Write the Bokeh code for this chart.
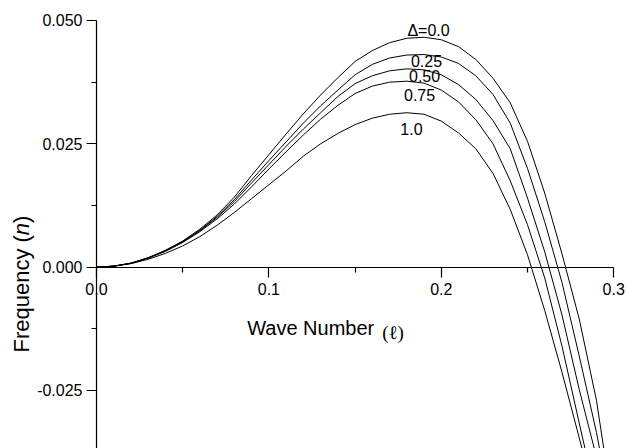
import math
from bokeh.plotting import figure
from bokeh.models import Range1d, FixedTicker, Label
from bokeh.embed import file_html
from bokeh.resources import INLINE

# ---- data ----
wave_number = [0.00, 0.01, 0.02, 0.03, 0.04, 0.05, 0.06, 0.07, 0.08, 0.09,
               0.10, 0.11, 0.12, 0.13, 0.14, 0.15, 0.16, 0.17, 0.18, 0.19,
               0.20, 0.21, 0.22, 0.23, 0.24, 0.25, 0.26, 0.27, 0.28, 0.29, 0.30]

freq_delta_000 = [0.0000, 0.0002, 0.0008, 0.0019, 0.0034, 0.0053, 0.0077, 0.0106, 0.0142, 0.0186,
                  0.0228, 0.0270, 0.0311, 0.0349, 0.0384, 0.0417, 0.0439, 0.0455, 0.0464, 0.0466,
                  0.0461, 0.0447, 0.0421, 0.0383, 0.0333, 0.0255, 0.0150, 0.0027, -0.0105, -0.0270, -0.0500]
freq_delta_025 = [0.0000, 0.0002, 0.0008, 0.0019, 0.0034, 0.0052, 0.0075, 0.0103, 0.0137, 0.0177,
                  0.0216, 0.0254, 0.0292, 0.0327, 0.0359, 0.0390, 0.0411, 0.0424, 0.0430, 0.0431,
                  0.0426, 0.0413, 0.0388, 0.0350, 0.0292, 0.0200, 0.0092, -0.0031, -0.0180, -0.0335, -0.0520]
freq_delta_050 = [0.0000, 0.0002, 0.0008, 0.0019, 0.0033, 0.0051, 0.0074, 0.0101, 0.0133, 0.0171,
                  0.0208, 0.0245, 0.0280, 0.0313, 0.0346, 0.0372, 0.0388, 0.0398, 0.0402, 0.0400,
                  0.0390, 0.0370, 0.0340, 0.0297, 0.0240, 0.0140, 0.0031, -0.0097, -0.0248, -0.0385, -0.0540]
freq_delta_075 = [0.0000, 0.0002, 0.0008, 0.0018, 0.0032, 0.0050, 0.0072, 0.0098, 0.0128, 0.0163,
                  0.0199, 0.0234, 0.0268, 0.0300, 0.0328, 0.0352, 0.0367, 0.0375, 0.0377, 0.0373,
                  0.0359, 0.0335, 0.0299, 0.0250, 0.0175, 0.0086, -0.0022, -0.0160, -0.0316, -0.0470, -0.0630]
freq_delta_100 = [0.0000, 0.0002, 0.0007, 0.0016, 0.0028, 0.0043, 0.0062, 0.0085, 0.0111, 0.0139,
                  0.0167, 0.0195, 0.0225, 0.0250, 0.0271, 0.0289, 0.0302, 0.0310, 0.0313, 0.0310,
                  0.0296, 0.0272, 0.0240, 0.0190, 0.0117, 0.0025, -0.0088, -0.0213, -0.0346, -0.0480, -0.0620]

series = [freq_delta_000, freq_delta_025, freq_delta_050, freq_delta_075, freq_delta_100]
curve_labels = ["\u0394=0.0", "0.25", "0.50", "0.75", "1.0"]
curve_label_x = [0.1926, 0.1914, 0.1903, 0.1874, 0.1827]
curve_label_y = [0.0480, 0.0417, 0.0387, 0.0348, 0.0281]

x_ticks = [0.0, 0.1, 0.2, 0.3]
x_tick_labels = ["0.0", "0.1", "0.2", "0.3"]
x_minor = [0.05, 0.15, 0.25]
y_ticks = [-0.025, 0.0, 0.025, 0.05]
y_tick_labels = ["-0.025", "0.000", "0.025", "0.050"]
y_minor = [-0.0375, -0.0125, 0.0125, 0.0375]

FONT = "Liberation Sans"

p = figure(width=626, height=448, output_backend="svg", toolbar_location=None,
           x_range=Range1d(-0.05568, 0.30742), y_range=Range1d(-0.03676, 0.054054),
           min_border=0, min_border_left=0, min_border_right=0,
           min_border_top=0, min_border_bottom=0)
p.outline_line_color = None
p.xgrid.visible = False
p.ygrid.visible = False
p.background_fill_color = "white"
p.border_fill_color = "white"

for ys in series:
    p.line(wave_number, ys, line_color="black", line_width=1)

for t, lx, ly in zip(curve_labels, curve_label_x, curve_label_y):
    p.add_layout(Label(x=lx, y=ly, text=t, text_align="center", text_baseline="middle",
                       text_font=FONT, text_font_size="16px", text_color="black"))

# axes crossing at the origin
xa = p.xaxis[0]
xa.fixed_location = 0
xa.bounds = (0.0, 0.3)
xa.ticker = FixedTicker(ticks=x_ticks, minor_ticks=x_minor)
xa.major_label_overrides = dict(zip(x_ticks, x_tick_labels))
ya = p.yaxis[0]
ya.fixed_location = 0
ya.bounds = (-0.05, 0.05)
ya.ticker = FixedTicker(ticks=y_ticks, minor_ticks=y_minor)
ya.major_label_overrides = dict(zip(y_ticks, y_tick_labels))
for ax in (xa, ya):
    ax.axis_line_color = "black"
    ax.axis_line_width = 1.2
    ax.major_tick_line_color = "black"
    ax.minor_tick_line_color = "black"
    ax.major_tick_line_width = 1.2
    ax.minor_tick_line_width = 1.2
    ax.major_tick_in = 0
    ax.major_tick_out = 10
    ax.minor_tick_in = 0
    ax.minor_tick_out = 5
    ax.major_label_text_font = FONT
    ax.major_label_text_font_size = "16px"
    ax.major_label_text_color = "black"
xa.major_label_standoff = 6
ya.major_label_standoff = 4

# axis titles
p.add_layout(Label(x=0.0874, y=-0.01243, text="Wave Number", text_font=FONT,
                   text_font_size="20px", text_color="black",
                   text_align="left", text_baseline="alphabetic"))
p.add_layout(Label(x=0.1657, y=-0.01324, text="(\u2113)", text_font="Liberation Serif",
                   text_font_size="19px", text_color="black",
                   text_align="left", text_baseline="alphabetic"))

ang = math.pi / 2
ylab_x = -0.0436
p.add_layout(Label(x=ylab_x, y=-0.01729, text="Frequency (", angle=ang, text_font=FONT,
                   text_font_size="22px", text_color="black",
                   text_align="left", text_baseline="alphabetic"))
p.add_layout(Label(x=ylab_x, y=0.00649, text="n", angle=ang, text_font=FONT,
                   text_font_size="22px", text_font_style="italic", text_color="black",
                   text_align="left", text_baseline="alphabetic"))
p.add_layout(Label(x=ylab_x, y=0.00896, text=")", angle=ang, text_font=FONT,
                   text_font_size="22px", text_color="black",
                   text_align="left", text_baseline="alphabetic"))

open("out.html", "w").write(file_html(p, INLINE))
